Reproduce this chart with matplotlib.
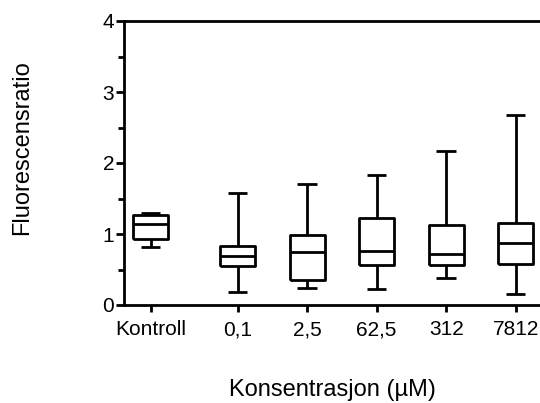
import matplotlib
matplotlib.use("Agg")
import matplotlib.pyplot as plt
from matplotlib.ticker import MultipleLocator

groups = ["Kontroll", "0,1", "2,5", "62,5", "312", "7812"]
positions = [0, 1.25, 2.25, 3.25, 4.25, 5.25]

# five-number summaries per group
whislo = [0.81, 0.18, 0.24, 0.22, 0.38, 0.16]
q1 = [0.93, 0.55, 0.35, 0.56, 0.57, 0.58]
med = [1.14, 0.69, 0.75, 0.76, 0.72, 0.87]
q3 = [1.27, 0.83, 0.99, 1.23, 1.13, 1.15]
whishi = [1.29, 1.58, 1.70, 1.83, 2.17, 2.67]

font = ["Liberation Sans", "DejaVu Sans"]
lw = 2.0

fig = plt.figure(figsize=(5.4, 4.03), dpi=100)
ax = fig.add_axes([124 / 540, 1 - 305 / 403, 1 - 124 / 540, (305 - 21) / 403])

stats = [
    {"whislo": a, "q1": b, "med": c, "q3": d, "whishi": e, "fliers": []}
    for a, b, c, d, e in zip(whislo, q1, med, q3, whishi)
]
style = {"color": "black", "linewidth": lw, "solid_capstyle": "butt"}
ax.bxp(
    stats,
    positions=positions,
    widths=0.5,
    capwidths=0.28,
    showfliers=False,
    boxprops=style,
    whiskerprops=style,
    capprops=style,
    medianprops=style,
)

ax.set_xlim(-0.385, 5.6)
ax.set_ylim(0, 4)
ax.set_xticks(positions)
ax.set_xticklabels(groups, fontfamily=font, fontsize=15)
ax.yaxis.set_major_locator(MultipleLocator(1))
ax.yaxis.set_minor_locator(MultipleLocator(0.5))
for lab in ax.get_yticklabels():
    lab.set_fontfamily(font)
    lab.set_fontsize(15)

ax.spines["right"].set_visible(False)
for side in ("left", "bottom", "top"):
    ax.spines[side].set_linewidth(lw)
ax.tick_params(axis="y", which="major", length=6, width=lw, pad=1)
ax.tick_params(axis="y", which="minor", length=4, width=lw)
ax.tick_params(axis="x", length=5, width=lw, pad=6)

fig.text(22.5 / 540, 1 - 148 / 403, "Fluorescensratio", rotation=90,
         ha="center", va="center", fontsize=17, fontfamily=font)
fig.text(332 / 540, 1 - 396 / 403, "Konsentrasjon (µM)", ha="center",
         va="baseline", fontsize=17, fontfamily=font)

fig.savefig("out.png", dpi=100)
